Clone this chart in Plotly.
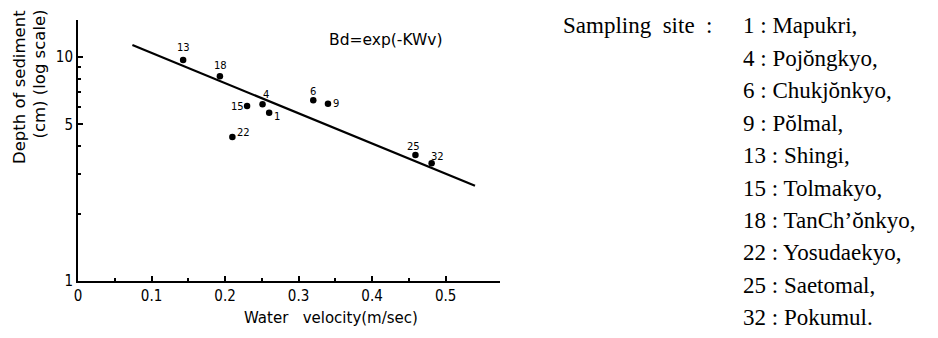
import math
import plotly.graph_objects as go

# ---- data ----
sites = ["1", "4", "6", "9", "13", "15", "18", "22", "25", "32"]
velocity = [0.260, 0.251, 0.320, 0.340, 0.143, 0.230, 0.193, 0.210, 0.459, 0.481]
depth = [5.64, 6.15, 6.41, 6.19, 9.7, 6.04, 8.2, 4.39, 3.65, 3.35]
# label offsets (px) for each site number
label_dx = [8, 3, 0, 8, 0, -10, 1, 11, -2, 6]
label_dy = [-4, 10, 9, 0, 12, 0, 11, 5, 9, 7]

fit_x = [0.074, 0.540]
fit_y = [11.3, 2.66]

x_ticks = [0, 0.1, 0.2, 0.3, 0.4, 0.5]
x_ticktext = ["0", "0.1", "0.2", "0.3", "0.4", "0.5"]
x_minor = [0.05, 0.15, 0.25, 0.35, 0.45]
y_ticks = [1, 5, 10]
y_ticktext = ["1", "5", "10"]
y_minor = [2, 3, 4, 6, 7, 8, 9]

site_names = [
    ("1", "Mapukri,"),
    ("4", "Pojŏngkyo,"),
    ("6", "Chukjŏnkyo,"),
    ("9", "Pŏlmal,"),
    ("13", "Shingi,"),
    ("15", "Tolmakyo,"),
    ("18", "TanCh’ŏnkyo,"),
    ("22", "Yosudaekyo,"),
    ("25", "Saetomal,"),
    ("32", "Pokumul."),
]

# ---- layout geometry (pixels) ----
W, H = 938, 338
L, R, T, B = 78, 500, 20, 281
pw, ph = R - L, B - T


def px2paper(px, py):
    return (px - L) / pw, (B - py) / ph


sans = "DejaVu Sans"
tickfam = "DejaVu Sans Condensed, DejaVu Sans"
serif = "Liberation Serif, Times New Roman, serif"

fig = go.Figure()
fig.add_trace(go.Scatter(x=fit_x, y=fit_y, mode="lines",
                         line=dict(color="black", width=2.2), showlegend=False,
                         hoverinfo="skip"))
fig.add_trace(go.Scatter(x=velocity, y=depth, mode="markers",
                         marker=dict(color="black", size=6.5), showlegend=False))

annotations = []
for s, vx, vy, dx, dy in zip(sites, velocity, depth, label_dx, label_dy):
    annotations.append(dict(x=vx, y=math.log10(vy), xref="x", yref="y",
                            text=s, showarrow=False, xshift=dx, yshift=dy,
                            xanchor="center", yanchor="middle",
                            font=dict(family=sans, size=10, color="black")))

# equation
ex, ey = px2paper(386, 40)
annotations.append(dict(x=ex, y=ey, xref="paper", yref="paper", text="Bd=exp(-KWv)",
                        xanchor="center", yanchor="middle",
                        showarrow=False, font=dict(family=sans, size=15.5, color="black")))

# y title (two rotated lines)
for txt, cx in [("Depth of sediment", 19), ("(cm) (log scale)", 39)]:
    ax_, ay_ = px2paper(cx, 8)
    annotations.append(dict(x=ax_, y=ay_, xref="paper", yref="paper", text=txt,
                            textangle=-90, xanchor="center", yanchor="top",
                            showarrow=False, font=dict(family=sans, size=16.5, color="black")))

# x title
tx, ty = px2paper(331, 318)
annotations.append(dict(x=tx, y=ty, xref="paper", yref="paper",
                        text="Water&nbsp;&nbsp;&nbsp;velocity(m/sec)",
                        xanchor="center", yanchor="middle",
                        showarrow=False, font=dict(family=sans, size=15, color="black")))

# legend text on the right
sx, sy = px2paper(561, 26)
annotations.append(dict(x=sx, y=sy, xref="paper", yref="paper",
                        text="Sampling&nbsp;&nbsp;site&nbsp;&nbsp;:",
                        xanchor="left", yanchor="middle", showarrow=False,
                        font=dict(family=serif, size=23, color="black")))
for i, (num, name) in enumerate(site_names):
    lx, ly = px2paper(741, 26 + i * 32.4)
    annotations.append(dict(x=lx, y=ly, xref="paper", yref="paper",
                            text=f"{num} : {name}",
                            xanchor="left", yanchor="middle", showarrow=False,
                            font=dict(family=serif, size=23, color="black")))

fig.update_layout(
    width=W, height=H,
    margin=dict(l=L, r=W - R, t=T, b=H - B),
    paper_bgcolor="white", plot_bgcolor="white",
    annotations=annotations,
    xaxis=dict(range=[0, 0.574], tickvals=x_ticks, ticktext=x_ticktext,
               ticks="inside", ticklen=5, tickwidth=1.5, tickcolor="black",
               showline=True, linecolor="black", linewidth=2, showgrid=False,
               zeroline=False, tickfont=dict(family=tickfam, size=15, color="black"),
               minor=dict(tickvals=x_minor, ticks="inside", ticklen=3, tickcolor="black",
                          tickwidth=1.5, showgrid=False)),
    yaxis=dict(type="log", range=[0, 1.165], tickvals=y_ticks, ticktext=y_ticktext,
               ticks="inside", ticklen=5, tickwidth=1.5, tickcolor="black",
               showline=True, linecolor="black", linewidth=2, showgrid=False,
               zeroline=False, tickfont=dict(family=tickfam, size=15, color="black"),
               minor=dict(tickvals=y_minor, ticks="inside", ticklen=3, tickcolor="black",
                          tickwidth=1.5, showgrid=False)),
)

fig.write_html("out.html")
